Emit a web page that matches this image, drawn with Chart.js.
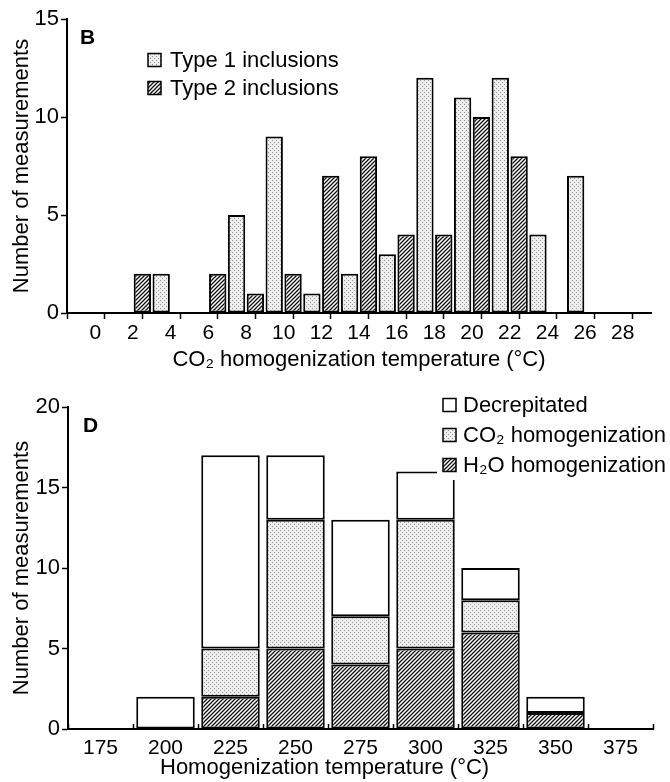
<!DOCTYPE html>
<html>
<head>
<meta charset="utf-8">
<script src="https://cdn.jsdelivr.net/npm/chart.js@4.4.1/dist/chart.umd.min.js"></script>
<style>
  body { margin: 0; background: #fff; }
  canvas { display: block; }
</style>
</head>
<body>
<canvas id="co2Chart" width="670" height="390"></canvas>
<canvas id="homogChart" width="670" height="392"></canvas>
<script>
// Panel B: CO2 homogenization temperature, 1 degree bins (value = bin start)
const type1Bins = [3, 7, 9, 11, 13, 15, 17, 19, 21, 23, 25];
const type1Counts = [2, 5, 9, 1, 2, 3, 12, 11, 12, 4, 7];
const type2Bins = [2, 6, 8, 10, 12, 14, 16, 18, 20, 22];
const type2Counts = [2, 2, 1, 2, 7, 8, 4, 4, 10, 8];
const co2TickLabels = [0, 2, 4, 6, 8, 10, 12, 14, 16, 18, 20, 22, 24, 26, 28];

// Panel D: homogenization temperature
const homogLabels = ['175', '200', '225', '250', '275', '300', '325', '350', '375'];
const h2oCounts = [0, 0, 2, 5, 4, 5, 6, 1, 0];
const co2Counts = [0, 0, 3, 8, 3, 8, 2, 0, 0];
const decrepitatedCounts = [0, 2, 12, 4, 6, 3, 2, 1, 0];

const FONT = "'Liberation Sans', Arial, Helvetica, sans-serif";

// fill patterns like the printed figure
function makeDots() {
    const c = document.createElement('canvas');
    c.width = 4; c.height = 4;
    const g = c.getContext('2d');
    g.fillStyle = '#ededed';
    g.fillRect(0, 0, 4, 4);
    g.fillStyle = '#999';
    g.fillRect(0, 0, 1, 1);
    g.fillRect(2, 2, 1, 1);
    return g.createPattern(c, 'repeat');
}

function makeHatch() {
    const c = document.createElement('canvas');
    c.width = 4; c.height = 4;
    const g = c.getContext('2d');
    g.fillStyle = '#fff';
    g.fillRect(0, 0, 4, 4);
    g.strokeStyle = '#111';
    g.lineWidth = 1.3;
    g.beginPath();
    g.moveTo(-1, 5); g.lineTo(5, -1);
    g.moveTo(-1, 1); g.lineTo(1, -1);
    g.moveTo(3, 5); g.lineTo(5, 3);
    g.stroke();
    return g.createPattern(c, 'repeat');
}

const dots = makeDots();
const hatch = makeHatch();

// zero counts draw nothing
const noZero = arr => arr.map(v => v === 0 ? null : v);

// panel letter, legend (and an off-centre axis title) drawn inside the plot
const panelNotes = {
    id: 'panelNotes',
    afterDraw(chart, args, opts) {
        const {ctx, chartArea} = chart;
        ctx.save();
        if (opts.clear) {
            ctx.fillStyle = '#fff';
            ctx.fillRect(chartArea.left + opts.clear.x, 0, chart.width, chartArea.top + opts.clear.y);
        }
        ctx.fillStyle = '#000';
        ctx.font = 'bold 21px ' + FONT;
        ctx.textBaseline = 'middle';
        ctx.fillText(opts.letter, chartArea.left + opts.letterX, chartArea.top + opts.letterY);

        if (opts.xTitle) {
            ctx.font = '22px ' + FONT;
            ctx.fillText(opts.xTitle.text, chartArea.left + opts.xTitle.x, chart.height - opts.xTitle.fromBottom);
        }

        let datasets = chart.data.datasets.slice();
        if (opts.reverse) datasets.reverse();
        ctx.font = '22px ' + FONT;
        datasets.forEach((ds, i) => {
            const x = chartArea.left + opts.x;
            const y = chartArea.top + opts.y + i * opts.rowGap;
            ctx.fillStyle = ds.backgroundColor;
            ctx.fillRect(x, y - 6.5, 13, 13);
            ctx.strokeStyle = '#000';
            ctx.lineWidth = 1.5;
            ctx.strokeRect(x, y - 6.5, 13, 13);
            ctx.fillStyle = '#000';
            ctx.fillText(ds.label, x + opts.textGap, y + 1);
        });
        ctx.restore();
    }
};

const xTickFont = { family: FONT, size: 21 };
const yTickFont = { family: FONT, size: 22 };
const titleFont = { family: FONT, size: 22 };

new Chart(document.getElementById('co2Chart'), {
    type: 'bar',
    data: {
        datasets: [
            {
                label: 'Type 1 inclusions',
                data: type1Bins.map((t, i) => ({ x: t + 0.5, y: type1Counts[i] })),
                backgroundColor: dots
            },
            {
                label: 'Type 2 inclusions',
                data: type2Bins.map((t, i) => ({ x: t + 0.5, y: type2Counts[i] })),
                backgroundColor: hatch
            }
        ]
    },
    options: {
        responsive: false,
        animation: false,
        layout: { padding: { top: 19, right: 19, left: 0, bottom: 0 } },
        datasets: {
            bar: {
                grouped: false,
                barPercentage: 0.92,
                categoryPercentage: 1,
                borderColor: '#000',
                borderWidth: 2,
                borderSkipped: false
            }
        },
        plugins: {
            legend: { display: false },
            tooltip: { enabled: false },
            panelNotes: { letter: 'B', letterX: 13, letterY: 19, x: 81, y: 41, rowGap: 28, textGap: 22 }
        },
        scales: {
            x: {
                type: 'linear',
                min: -1,
                max: 29,
                afterFit: scale => { scale.height = 77; },
                border: { display: true, color: '#000', width: 2 },
                grid: {
                    drawOnChartArea: false,
                    tickLength: 6,
                    tickWidth: 1.5,
                    tickColor: c => (c.tick && Math.abs(c.tick.value % 2) === 1) ? '#000' : 'rgba(0,0,0,0)'
                },
                ticks: {
                    stepSize: 1,
                    maxTicksLimit: 40,
                    autoSkip: false,
                    maxRotation: 0,
                    padding: 2,
                    color: '#000',
                    font: xTickFont,
                    callback: v => co2TickLabels.includes(v) ? String(v) : ''
                },
                title: {
                    display: true,
                    text: 'CO₂ homogenization temperature (°C)',
                    color: '#000',
                    font: titleFont,
                    padding: { top: 0, bottom: 17 }
                }
            },
            y: {
                min: 0,
                max: 15,
                afterFit: scale => { scale.width = 67; },
                border: { display: true, color: '#000', width: 2 },
                grid: { drawOnChartArea: false, tickLength: 6, tickWidth: 1.5, tickColor: '#000' },
                ticks: { stepSize: 5, padding: 2, color: '#000', font: yTickFont },
                title: {
                    display: true,
                    text: 'Number of measurements',
                    color: '#000',
                    font: titleFont,
                    padding: { top: 9, bottom: 0 }
                }
            }
        }
    },
    plugins: [panelNotes]
});

new Chart(document.getElementById('homogChart'), {
    type: 'bar',
    data: {
        labels: homogLabels,
        datasets: [
            { label: 'H₂O homogenization', data: noZero(h2oCounts), backgroundColor: hatch },
            { label: 'CO₂ homogenization', data: noZero(co2Counts), backgroundColor: dots },
            { label: 'Decrepitated', data: noZero(decrepitatedCounts), backgroundColor: '#fff' }
        ]
    },
    options: {
        responsive: false,
        animation: false,
        layout: { padding: { top: 17, right: 17, left: 0, bottom: 0 } },
        datasets: {
            bar: {
                barPercentage: 0.9,
                categoryPercentage: 1,
                borderColor: '#000',
                borderWidth: 2,
                borderSkipped: false
            }
        },
        plugins: {
            legend: { display: false },
            tooltip: { enabled: false },
            panelNotes: {
                letter: 'D', letterX: 15, letterY: 19,
                x: 375, y: -2, rowGap: 30, textGap: 20, reverse: true,
                clear: { x: 369, y: 73 },
                xTitle: { text: 'Homogenization temperature (°C)', x: 92, fromBottom: 14 }
            }
        },
        scales: {
            x: {
                stacked: true,
                offset: true,
                afterFit: scale => { scale.height = 53; },
                border: { display: true, color: '#000', width: 2 },
                grid: { offset: true, drawOnChartArea: false, tickLength: -5, tickWidth: 1.5, tickColor: '#000' },
                ticks: { padding: 12, color: '#000', font: xTickFont, maxRotation: 0 }
            },
            y: {
                stacked: true,
                min: 0,
                max: 20,
                afterFit: scale => { scale.width = 68; },
                border: { display: true, color: '#000', width: 2 },
                grid: { drawOnChartArea: false, tickLength: 6, tickWidth: 1.5, tickColor: '#000' },
                ticks: { stepSize: 5, padding: 2, color: '#000', font: yTickFont },
                title: {
                    display: true,
                    text: 'Number of measurements',
                    color: '#000',
                    font: titleFont,
                    padding: { top: 9, bottom: 0 }
                }
            }
        }
    },
    plugins: [panelNotes]
});
</script>
</body>
</html>
